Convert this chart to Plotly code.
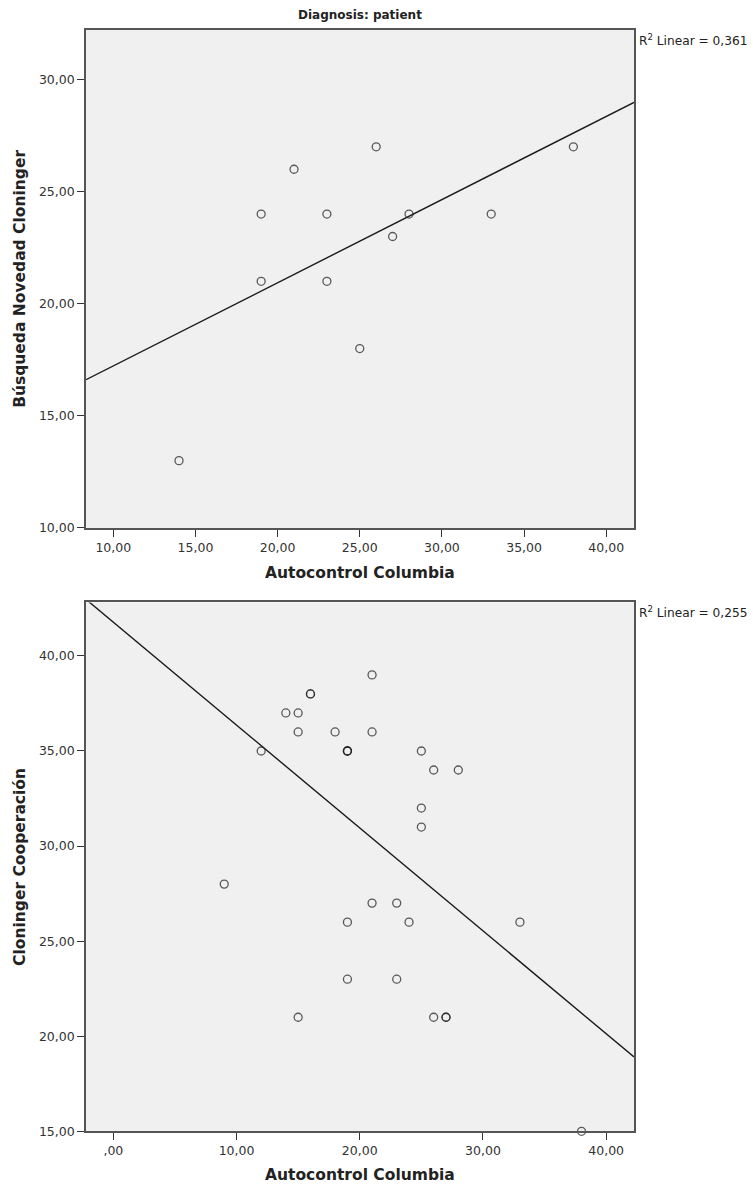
import numpy as np
import plotly.graph_objects as go

W, H = 753, 1194

# Diagnosis: patient -- Autocontrol Columbia vs Búsqueda Novedad Cloninger
novedad_x = [14, 19, 19, 21, 23, 23, 25, 26, 27, 28, 33, 38]
novedad_y = [13, 24, 21, 26, 24, 21, 18, 27, 23, 24, 24, 27]

# Autocontrol Columbia vs Cloninger Cooperación (repeated pairs overlap)
coop_x = [9, 12, 14, 15, 15, 16, 16, 18, 19, 19, 19, 21, 21, 25, 26, 28, 25, 25,
          15, 19, 19, 21, 23, 24, 23, 26, 27, 27, 33, 38]
coop_y = [28, 35, 37, 37, 36, 38, 38, 36, 35, 35, 35, 39, 36, 35, 34, 34, 32, 31,
          21, 26, 23, 27, 27, 26, 23, 21, 21, 21, 26, 15]

top_xticks = [10, 15, 20, 25, 30, 35, 40]
top_xlabels = ["10,00", "15,00", "20,00", "25,00", "30,00", "35,00", "40,00"]
top_yticks = [10, 15, 20, 25, 30]
top_ylabels = ["10,00", "15,00", "20,00", "25,00", "30,00"]

bot_xticks = [0, 10, 20, 30, 40]
bot_xlabels = [",00", "10,00", "20,00", "30,00", "40,00"]
bot_yticks = [15, 20, 25, 30, 35, 40]
bot_ylabels = ["15,00", "20,00", "25,00", "30,00", "35,00", "40,00"]

top_xrange = [8.34, 41.69]
top_yrange = [10, 32.22]
bot_xrange = [-2.22, 42.26]
bot_yrange = [15, 42.81]

FONT = "DejaVu Sans"
INK = "#222222"
FRAME = "#555555"


def fx(a, b):
    return [a / W, b / W]


def fy(top, bottom):
    return [(H - bottom) / H, (H - top) / H]


def py(p):
    return (H - p) / H


def fit(x, y, xr):
    x = np.asarray(x, float)
    y = np.asarray(y, float)
    slope, icpt = np.polyfit(x, y, 1)
    r2 = np.corrcoef(x, y)[0, 1] ** 2
    xs = np.array(xr)
    return xs, slope * xs + icpt, r2


fig = go.Figure()

marker = dict(symbol="circle-open", size=8, color="rgba(30,30,30,0.72)",
              line=dict(width=1.3, color="rgba(30,30,30,0.72)"))

# upper panel
lx, ly, r2_top = fit(novedad_x, novedad_y, top_xrange)
fig.add_trace(go.Scatter(x=lx, y=ly, mode="lines", line=dict(color="#1a1a1a", width=1.4),
                         xaxis="x", yaxis="y", hoverinfo="skip"))
fig.add_trace(go.Scatter(x=novedad_x, y=novedad_y, mode="markers", marker=marker,
                         xaxis="x", yaxis="y"))

# lower panel
lx2, ly2, r2_bot = fit(coop_x, coop_y, bot_xrange)
fig.add_trace(go.Scatter(x=lx2, y=ly2, mode="lines", line=dict(color="#1a1a1a", width=1.4),
                         xaxis="x2", yaxis="y2", hoverinfo="skip"))
fig.add_trace(go.Scatter(x=coop_x, y=coop_y, mode="markers", marker=marker,
                         xaxis="x2", yaxis="y2", cliponaxis=False))

TOP = (30, 531)
BOT = (606, 1138)
LEFT, RIGHT = 86, 634

axis_common = dict(showgrid=False, zeroline=False, showline=True, mirror=True,
                   linecolor=FRAME, linewidth=1.6, ticks="outside", ticklen=7,
                   tickwidth=1.2, tickcolor="#333333",
                   tickfont=dict(family=FONT, size=12.5, color="#333333"))

fig.update_layout(
    width=W, height=H,
    margin=dict(l=0, r=0, t=0, b=0),
    paper_bgcolor="white",
    plot_bgcolor="#f0f0f0",
    showlegend=False,
    xaxis=dict(axis_common, domain=fx(LEFT, RIGHT), range=top_xrange,
               tickvals=top_xticks, ticktext=top_xlabels, anchor="y"),
    yaxis=dict(axis_common, domain=fy(*TOP), range=top_yrange,
               tickvals=top_yticks, ticktext=top_ylabels, anchor="x"),
    xaxis2=dict(axis_common, domain=fx(LEFT, RIGHT), range=bot_xrange,
                tickvals=bot_xticks, ticktext=bot_xlabels, anchor="y2"),
    yaxis2=dict(axis_common, domain=fy(*BOT), range=bot_yrange,
                tickvals=bot_yticks, ticktext=bot_ylabels, anchor="x2"),
)


def r2_text(r2):
    return "R<sup>2</sup> Linear = " + f"{r2:.3f}".replace(".", ",")


cx = (LEFT + RIGHT) / 2 / W
ann = [
    dict(text="<b>Diagnosis: patient</b>", x=cx, y=py(15), font=dict(size=12)),
    dict(text=r2_text(r2_top), x=(RIGHT + 3) / W, y=py(TOP[0]), xanchor="left",
         yanchor="top", font=dict(size=12.2)),
    dict(text=r2_text(r2_bot), x=(RIGHT + 3) / W, y=py(BOT[0]), xanchor="left",
         yanchor="top", font=dict(size=12.2)),
    dict(text="<b>Autocontrol Columbia</b>", x=cx, y=py(TOP[1] + 45), font=dict(size=15.5)),
    dict(text="<b>Autocontrol Columbia</b>", x=cx, y=py(BOT[1] + 44), font=dict(size=15.5)),
    dict(text="<b>Búsqueda Novedad Cloninger</b>", x=20 / W, y=py(sum(TOP) / 2),
         textangle=-90, font=dict(size=15.5)),
    dict(text="<b>Cloninger Cooperación</b>", x=20 / W, y=py(sum(BOT) / 2),
         textangle=-90, font=dict(size=15.5)),
]
for a in ann:
    a.setdefault("xanchor", "center")
    a.setdefault("yanchor", "middle")
    a["font"] = dict(family=FONT, color=INK, **a["font"])
    fig.add_annotation(xref="paper", yref="paper", showarrow=False, **a)

fig.write_html("out.html")
